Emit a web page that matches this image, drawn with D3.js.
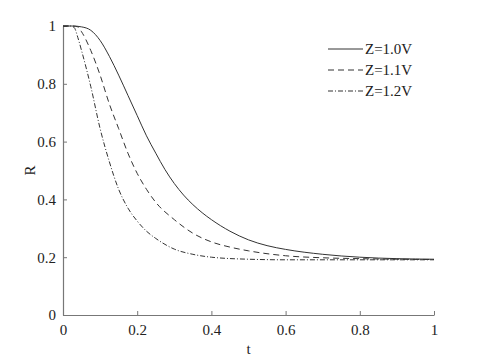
<!DOCTYPE html>
<html>
<head>
<meta charset="utf-8">
<script src="https://cdn.jsdelivr.net/npm/d3@7"></script>
<style>
  body { margin: 0; background: #fff; }
  text { font-family: "Liberation Serif", "Times New Roman", Times, Tinos, "Nimbus Roman", FreeSerif, serif; fill: #222; }
</style>
</head>
<body>
<div id="chart"></div>
<script>
// values
const tZ10 = [0, 0.025, 0.05, 0.075, 0.1, 0.125, 0.15, 0.175, 0.2, 0.225, 0.25, 0.275, 0.3, 0.325, 0.35, 0.375, 0.4, 0.45, 0.5, 0.55, 0.6, 0.7, 0.8, 0.9, 1]
const rZ10 = [1, 1, 0.997, 0.985, 0.95, 0.895, 0.83, 0.76, 0.69, 0.62, 0.56, 0.503, 0.455, 0.415, 0.382, 0.354, 0.33, 0.29, 0.26, 0.24, 0.227, 0.21, 0.2, 0.195, 0.193]

const tZ11 = [0, 0.025, 0.04, 0.05, 0.075, 0.1, 0.125, 0.15, 0.175, 0.2, 0.225, 0.25, 0.3, 0.35, 0.4, 0.45, 0.5, 0.6, 0.7, 0.8, 0.9, 1]
const rZ11 = [1, 1, 0.997, 0.98, 0.915, 0.83, 0.73, 0.645, 0.56, 0.49, 0.435, 0.39, 0.33, 0.283, 0.253, 0.235, 0.222, 0.205, 0.198, 0.195, 0.193, 0.192]

const tZ12 = [0, 0.02, 0.03, 0.04, 0.05, 0.075, 0.1, 0.125, 0.15, 0.175, 0.2, 0.225, 0.25, 0.3, 0.35, 0.4, 0.5, 0.6, 0.8, 1]
const rZ12 = [1, 1, 0.995, 0.96, 0.915, 0.79, 0.645, 0.53, 0.435, 0.37, 0.325, 0.29, 0.265, 0.228, 0.21, 0.2, 0.193, 0.191, 0.191, 0.191]

const seriesNames = ['Z=1.0V', 'Z=1.1V', 'Z=1.2V']
const xTicks = [0, 0.2, 0.4, 0.6, 0.8, 1]
const yTicks = [0, 0.2, 0.4, 0.6, 0.8, 1]

const series = [
  { name: seriesNames[0], t: tZ10, r: rZ10, dash: null },
  { name: seriesNames[1], t: tZ11, r: rZ11, dash: '6,4' },
  { name: seriesNames[2], t: tZ12, r: rZ12, dash: '5,2,1,2' },
]

const serif = '"Liberation Serif", "Times New Roman", Times, Tinos, "Nimbus Roman", FreeSerif, serif'

const margin = { left: 63, right: 46, top: 26, bottom: 45 }
const width = 480 - margin.left - margin.right
const height = 360 - margin.top - margin.bottom

const svg = d3.select('#chart')
  .append('svg')
  .attr('width', 480)
  .attr('height', 360)

const g = svg.append('g')
  .attr('transform', `translate(${margin.left}, ${margin.top})`)

const x = d3.scaleLinear().domain([0, 1]).range([0, width])
const y = d3.scaleLinear().domain([0, 1]).range([height, 0])

const fmt = d => d === 0 || d === 1 ? String(d) : d.toFixed(1)

// axes, ticks pointing inward
const xAxis = g.append('g')
  .attr('transform', `translate(0, ${height})`)
  .call(d3.axisBottom(x).tickValues(xTicks).tickFormat(fmt).tickSizeInner(-4).tickSizeOuter(0).tickPadding(9))

const yAxis = g.append('g')
  .call(d3.axisLeft(y).tickValues(yTicks).tickFormat(fmt).tickSizeInner(-4).tickSizeOuter(0).tickPadding(7))

;[xAxis, yAxis].forEach(a => {
  a.attr('font-family', serif)
  a.select('.domain').attr('stroke', '#777').attr('stroke-width', 1.2)
  a.selectAll('.tick line').attr('stroke', '#777')
  a.selectAll('.tick text')
    .attr('font-family', serif)
    .attr('font-size', '15px')
    .attr('fill', '#222')
})

// axis labels
g.append('text')
  .attr('text-anchor', 'middle')
  .attr('transform', `translate(${width / 2}, ${height + 39})`)
  .attr('font-size', '15px')
  .text('t')

g.append('text')
  .attr('text-anchor', 'middle')
  .attr('transform', `translate(-28, ${height / 2}) rotate(-90)`)
  .attr('font-size', '15px')
  .text('R')

const line = d3.line()
  .x(d => x(d[0]))
  .y(d => y(d[1]))
  .curve(d3.curveMonotoneX)

g.selectAll('.curve')
  .data(series)
  .enter()
  .append('path')
    .attr('class', 'curve')
    .attr('d', s => line(s.t.map((t, i) => [t, s.r[i]])))
    .attr('fill', 'none')
    .attr('stroke', '#333')
    .attr('stroke-width', 1)
    .attr('stroke-dasharray', s => s.dash)

// legend
const legend = g.append('g')
  .attr('transform', `translate(${265}, ${23})`)

series.forEach((s, i) => {
  const row = legend.append('g').attr('transform', `translate(0, ${i * 21})`)
  row.append('line')
    .attr('x1', 0).attr('x2', 35)
    .attr('stroke', '#333')
    .attr('stroke-width', 1)
    .attr('stroke-dasharray', s.dash)
  row.append('text')
    .attr('x', 37)
    .attr('y', 5)
    .attr('font-size', '15px')
    .text(s.name)
})
</script>
</body>
</html>
